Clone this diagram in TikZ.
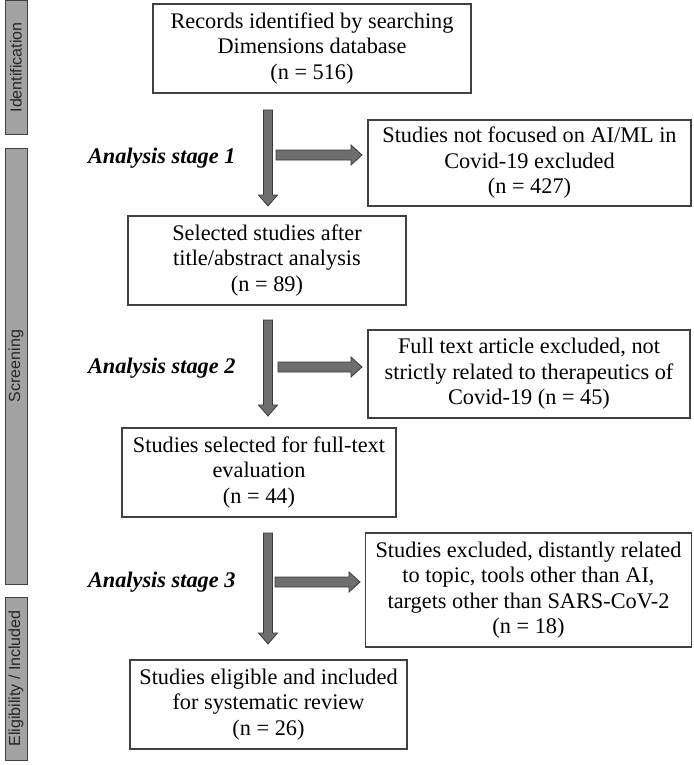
\documentclass[tikz,border=0pt]{standalone}
\usepackage{fontspec}
\setmainfont{Liberation Serif}
\setsansfont{Liberation Sans}
\usetikzlibrary{calc}
\definecolor{boxline}{HTML}{404040}
\definecolor{sidefill}{HTML}{A3A3A3}
\definecolor{arrfill}{HTML}{6E6E6E}
\definecolor{arrline}{HTML}{3A3A3A}
\newcommand{\varrow}[3]{%
  \draw[fatarrow] (#1-4.5,#2) -- (#1+4.5,#2) -- (#1+4.5,#3-11) -- (#1+9.5,#3-11) -- (#1,#3) -- (#1-9.5,#3-11) -- (#1-4.5,#3-11) -- cycle;}
\newcommand{\harrow}[3]{%
  \draw[fatarrow] (#1,#3-5) -- (#2-11,#3-5) -- (#2-11,#3-10) -- (#2,#3) -- (#2-11,#3+10) -- (#2-11,#3+5) -- (#1,#3+5) -- cycle;}
\begin{document}
\begin{tikzpicture}[x=1pt,y=-1pt,
  flowbox/.style={draw=boxline, line width=1.1pt, fill=white, align=center, inner sep=0pt,
    font=\fontsize{22.3}{25.5}\selectfont},
  sidebar/.style={draw=boxline, line width=1pt, fill=sidefill},
  sidetext/.style={rotate=90, font=\sffamily\fontsize{16}{18}\selectfont, text=black!85},
  stagelabel/.style={font=\bfseries\itshape\fontsize{22.3}{26}\selectfont, anchor=east},
  fatarrow/.style={fill=arrfill, draw=arrline, line width=0.8pt, line join=miter}]
\useasboundingbox (0,0) rectangle (693,765);
% side bars
\draw[sidebar] (5,1) rectangle (27,134);
\node[sidetext] (sid) at (16,67.5) {Identification};
\draw[sidebar] (5,148) rectangle (27,584);
\node[sidetext] (sscr) at (16,366) {Screening};
\draw[sidebar] (5,597) rectangle (27,760);
\node[sidetext] (selig) at (16,678.5) {Eligibility / Included};
% boxes
\node[flowbox, minimum width=318, minimum height=89] (b1) at (312,48.5)
  {Records identified by searching\\Dimensions database\\(n = 516)};
\node[flowbox, minimum width=323, minimum height=86] (b2) at (529.5,163)
  {Studies not focused on AI/ML in\\Covid-19 excluded\\(n = 427)};
\node[flowbox, minimum width=278, minimum height=89] (b3) at (267,260.5)
  {Selected studies after\\title/abstract analysis\\(n = 89)};
\node[flowbox, minimum width=322, minimum height=88] (b4) at (529,374)
  {Full text article excluded, not\\strictly related to therapeutics of\\Covid-19 (n = 45)};
\node[flowbox, minimum width=274, minimum height=89] (b5) at (259,472.5)
  {Studies selected for full-text\\evaluation\\(n = 44)};
\node[flowbox, minimum width=326, minimum height=114] (b6) at (528.5,590)
  {Studies excluded, distantly related\\to topic, tools other than AI,\\targets other than SARS-CoV-2\\(n = 18)};
\node[flowbox, minimum width=277, minimum height=89] (b7) at (268.5,704.5)
  {Studies eligible and included\\for systematic review\\(n = 26)};
% stage labels
\node[stagelabel] (s1) at (239,158) {Analysis stage 1};
\node[stagelabel] (s2) at (239,368) {Analysis stage 2};
\node[stagelabel] (s3) at (239,582) {Analysis stage 3};
% arrows
\varrow{268}{110}{206}
\harrow{276}{362}{155}
\varrow{268}{320}{416}
\harrow{278}{362}{367}
\varrow{268}{533}{644}
\harrow{275}{360}{582}
\end{tikzpicture}
\end{document}
